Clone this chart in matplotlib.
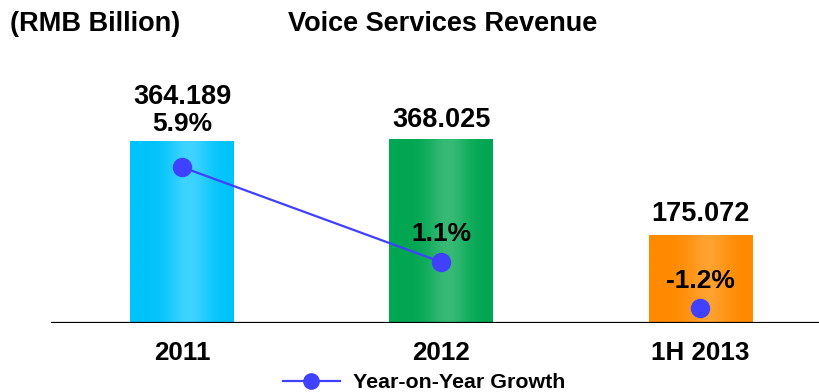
import numpy as np
import matplotlib.pyplot as plt
from matplotlib.colors import LinearSegmentedColormap
from matplotlib.lines import Line2D

plt.rcParams['font.family'] = ['Liberation Sans', 'DejaVu Sans']
plt.rcParams['font.weight'] = 'bold'

periods = ['2011', '2012', '1H 2013']
revenue = [364.189, 368.025, 175.072]
growth = [5.9, 1.1, -1.2]

# edge / centre colours for the shaded bars
bar_colors = [('#00C3FB', '#3FD4FF'), ('#00A651', '#38BA76'), ('#FF8A00', '#FFA130')]
# label offsets (pixels) above bar top / growth point
value_offsets = [38, 13, 15]
pct_offsets = [36, 21, 20]

W, H = 820, 392
fig = plt.figure(figsize=(W / 100, H / 100), dpi=100)

base_px = 68.7      # baseline height from bottom of figure
top_px = 332.0      # top of axes from bottom
span = top_px - base_px
xlim = (-182 / 259.25, (W - 182) / 259.25)

ax = fig.add_axes([0, base_px / H, 1, span / H])
ax.axis('off')

x = np.arange(len(periods))
bar_w = 0.40
# soft highlight a little right of centre
t = np.linspace(0, 1, 256)
shade = np.exp(-((t - 0.57) / 0.2) ** 2)
for i, (val, (edge, mid)) in enumerate(zip(revenue, bar_colors)):
    cmap = LinearSegmentedColormap.from_list('shade', [edge, mid])
    ax.imshow(shade[np.newaxis, :], cmap=cmap, vmin=0, vmax=1, aspect='auto',
              extent=(x[i] - bar_w / 2, x[i] + bar_w / 2, 0, val), zorder=2)
    ax.annotate(f'{val:.3f}', xy=(x[i], val), xytext=(0, value_offsets[i]),
                textcoords='offset pixels', ha='center', va='baseline',
                fontsize=19.5, fontweight='bold', zorder=5)
ax.set_xlim(*xlim)
ax.set_ylim(0, span / 0.4985)

# baseline
ax.axhline(0, xmin=52 / W, xmax=1, color='black', lw=1.6, zorder=4)

# period labels
for i, p in enumerate(periods):
    ax.annotate(p, xy=(x[i], 0), xytext=(0, -36.7), textcoords='offset pixels',
                ha='center', va='baseline', fontsize=18.7, fontweight='bold')

# growth on its own scale
ax2 = fig.add_axes(ax.get_position())
ax2.patch.set_alpha(0)
ax2.axis('off')
ppx = 19.78
zero_px = 39.5
ax2.set_ylim(-zero_px / ppx, (span - zero_px) / ppx)
ax2.set_xlim(*xlim)
line_color = '#4040FF'
ax2.plot(x[:2], growth[:2], color=line_color, lw=1.6, marker='o', ms=13, zorder=6)
ax2.plot(x[2:], growth[2:], color=line_color, lw=0, marker='o', ms=13, zorder=6)
for i, g in enumerate(growth):
    ax2.annotate(f'{g:.1f}%', xy=(x[i], g), xytext=(0, pct_offsets[i]),
                 textcoords='offset pixels', ha='center', va='baseline',
                 fontsize=19, fontweight='bold', zorder=7)

fig.text(10 / W, 1 - 31 / H, '(RMB Billion)', fontsize=19.5, fontweight='bold',
         ha='left', va='baseline')
fig.text(443 / W, 1 - 31 / H, 'Voice Services Revenue', fontsize=19.5,
         fontweight='bold', ha='center', va='baseline')

handle = Line2D([], [], color=line_color, lw=1.6, marker='o', ms=11)
fig.legend([handle], ['Year-on-Year Growth'], loc='center',
           bbox_to_anchor=(424 / W, 1 - 383 / H), frameon=False,
           prop={'size': 15.4, 'weight': 'bold'}, handlelength=2.7,
           handletextpad=0.6)

fig.savefig('out.png', dpi=100)
